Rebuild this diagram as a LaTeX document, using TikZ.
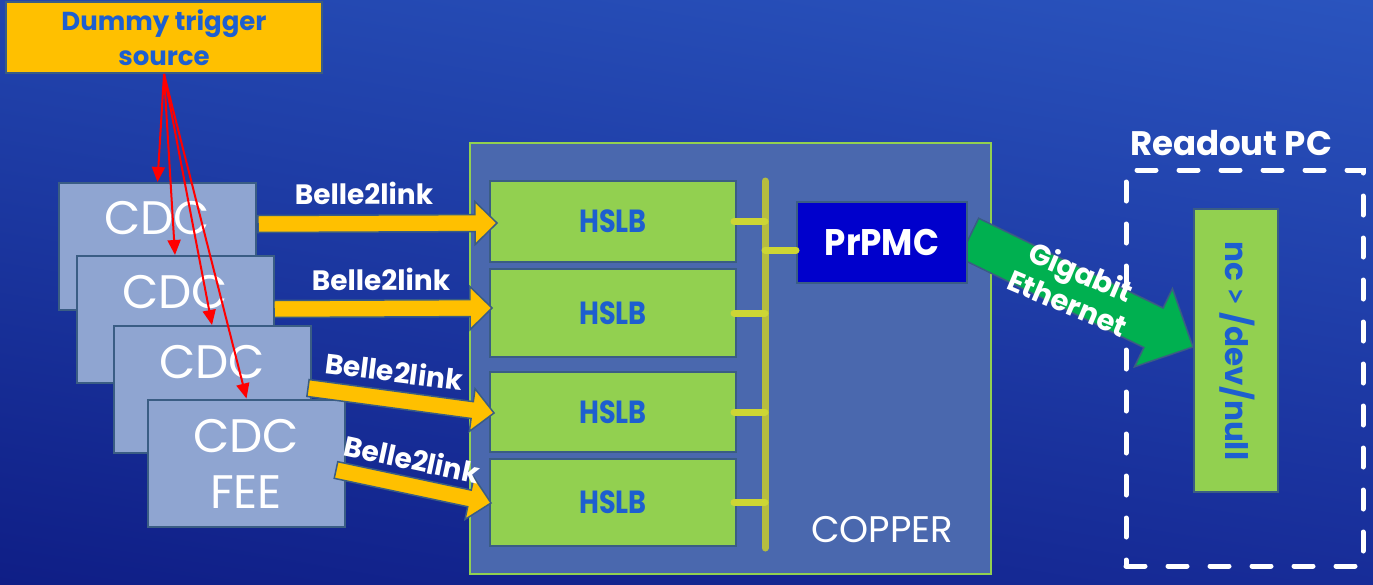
\documentclass[tikz,border=0pt]{standalone}
\usepackage{fontspec}
\setmainfont{Poppins}
\newfontfamily\latofont{Lato}
\usetikzlibrary{calc,arrows.meta,shadings}
\definecolor{bgTL}{HTML}{2245AE}
\definecolor{bgTR}{HTML}{2A54BE}
\definecolor{bgBL}{HTML}{0F1E86}
\definecolor{bgBR}{HTML}{172C98}
\definecolor{cdcfill}{HTML}{8FA5D1}
\definecolor{edgec}{HTML}{3A5D84}
\definecolor{copfill}{HTML}{4A68AE}
\definecolor{lgreen}{HTML}{92D050}
\definecolor{gold}{HTML}{FFC000}
\definecolor{txtblue}{HTML}{1D5FD0}
\definecolor{prblue}{HTML}{0000CC}
\definecolor{gbgreen}{HTML}{00B050}
\definecolor{busc}{HTML}{B6BD3F}
\definecolor{stubc}{HTML}{CDD634}
\newcommand\blkarrow[6]{%
  \coordinate (hb) at ($(#2)!#5!(#1)$);
  \filldraw[fill=#6,draw=edgec,line width=1.5pt,line join=miter]
   ($(#1)!#3!90:(#2)$) -- ($(hb)!#3!90:(#2)$) -- ($(hb)!#4!90:(#2)$) -- (#2)
   -- ($(hb)!#4!-90:(#2)$) -- ($(hb)!#3!-90:(#2)$) -- ($(#1)!#3!-90:(#2)$) -- cycle;}
\tikzset{
  boxc/.style={draw=edgec,line width=2pt,inner sep=0pt},
  cdcbox/.style={boxc,fill=cdcfill,minimum width=197,minimum height=127},
  cdctxt/.style={text=white,inner sep=0pt,font=\fontsize{47}{56}\selectfont,align=center},
  hslbbox/.style={boxc,fill=lgreen,minimum width=246,text=txtblue,font=\bfseries\fontsize{32}{34}\selectfont},
  lbl/.style={text=white,inner sep=0pt,font=\bfseries\fontsize{28}{30}\selectfont},
  trig/.style={draw=red,line width=2pt,-{Triangle[length=15pt,width=13pt]}},
  stub/.style={draw=stubc,line width=7pt,line cap=round},
}
\begin{document}
\begin{tikzpicture}[x=1pt,y=-1pt]
\shade[upper left=bgTL,upper right=bgTR,lower left=bgBL,lower right=bgBR] (0,0) rectangle (1373,584);
\useasboundingbox (0,0) rectangle (1373,584);

% trigger source
\node[boxc,fill=gold,minimum width=316,minimum height=71,text=txtblue,align=center,
      font=\bfseries\fontsize{26}{35}\selectfont] (trg) at (164,37.5) {Dummy trigger\\source};

% CDC stack
\node[cdcbox] (cdc1) at (157.5,246.5) {};
\node[cdctxt] (cdc1t) at (157,218) {CDC};
\node[cdcbox] (cdc2) at (175,319.5) {};
\node[cdctxt] (cdc2t) at (175,292) {CDC};
\node[cdcbox] (cdc3) at (212,389.5) {};
\node[cdctxt] (cdc3t) at (212,362) {CDC};
\node[cdcbox] (cdc4) at (246.5,463) {};
\node[cdctxt] (cdc4t) at (246,464) {CDC\\FEE};

% COPPER board
\node[draw=lgreen,line width=2pt,fill=copfill,minimum width=521,minimum height=431,inner sep=0pt] (copper) at (730.5,358.5) {};
\node[cdctxt,font=\fontsize{37}{40}\selectfont] (coppert) at (882,530) {COPPER};
\node[hslbbox,minimum height=81] (hslb1) at (613,221.5) {\scalebox{0.85}[1]{HSLB}};
\node[hslbbox,minimum height=88] (hslb2) at (613,313) {\scalebox{0.85}[1]{HSLB}};
\node[hslbbox,minimum height=80] (hslb3) at (613,412) {\scalebox{0.85}[1]{HSLB}};
\node[hslbbox,minimum height=87] (hslb4) at (613,502.5) {\scalebox{0.85}[1]{HSLB}};
\coordinate (busT) at (765,181);
\coordinate (busB) at (765,548);
\draw[busc,line width=7pt,line cap=round] (busT) -- (busB);
\draw[stub] ([xshift=-3pt]hslb1.east) -- (hslb1.east -| busT);
\draw[stub] ([xshift=-3pt]hslb2.east) -- (hslb2.east -| busT);
\draw[stub] ([xshift=-3pt]hslb3.east) -- (hslb3.east -| busT);
\draw[stub] ([xshift=-3pt]hslb4.east) -- (hslb4.east -| busT);

% Readout PC
\node[draw=white,line width=5pt,dash pattern=on 19pt off 23pt,line cap=round,
      minimum width=237,minimum height=396,inner sep=0pt] (pc) at (1244.5,368) {};
\node[lbl,font=\bfseries\fontsize{34}{36}\selectfont] (pct) at (1231,143) {Readout PC};
\node[boxc,fill=lgreen,minimum width=84,minimum height=283] (nc) at (1236,350.5) {};
\node[text=txtblue,inner sep=0pt,rotate=-90,font=\bfseries\fontsize{31}{34}\selectfont] (nct) at (1237,351) {nc {\latofont\bfseries >} /dev/null};

% Gigabit Ethernet arrow
\coordinate (ga) at (969,238);
\coordinate (gb) at (1193,347);
\blkarrow{ga}{gb}{22pt}{43.5pt}{44pt}{gbgreen}
\node[boxc,fill=prblue,minimum width=170,minimum height=81,text=white,
      font=\bfseries\fontsize{37}{40}\selectfont] (prpmc) at (882,242.5) {\scalebox{0.92}[1]{PrPMC}};
\draw[stub] (busT |- 0,250) -- ([yshift=-7.5pt]prpmc.west);
\node[lbl,rotate=-23,align=center,font=\bfseries\fontsize{29}{34}\selectfont] (gig) at (1074.5,287) {Gigabit\\Ethernet};

% Belle2link arrows
\coordinate (y1a) at (258,224);  \coordinate (y1b) at (497,223);
\coordinate (y2a) at (274,309);  \coordinate (y2b) at (492,308);
\coordinate (y3a) at (308,388);  \coordinate (y3b) at (494,413);
\coordinate (y4a) at (336,470);  \coordinate (y4b) at (491,503);
\blkarrow{y1a}{y1b}{8.5pt}{21.5pt}{22pt}{gold}
\blkarrow{y2a}{y2b}{8.5pt}{21.5pt}{22pt}{gold}
\blkarrow{y3a}{y3b}{8.5pt}{21.5pt}{22pt}{gold}
\blkarrow{y4a}{y4b}{8.5pt}{21.5pt}{22pt}{gold}
\node[lbl] (bl1) at (364,193) {Belle2link};
\node[lbl] (bl2) at (381,279) {Belle2link};
\node[lbl,rotate=-7] (bl3) at (394,371) {Belle2link};
\node[lbl,rotate=-12] (bl4) at (412,459) {Belle2link};

% trigger distribution
\draw[trig] (trg.south) -- (cdc1.north);
\draw[trig] (trg.south) -- (cdc2.north);
\draw[trig] (trg.south) -- (cdc3.north);
\draw[trig] (trg.south) -- (cdc4.north);
\end{tikzpicture}
\end{document}
